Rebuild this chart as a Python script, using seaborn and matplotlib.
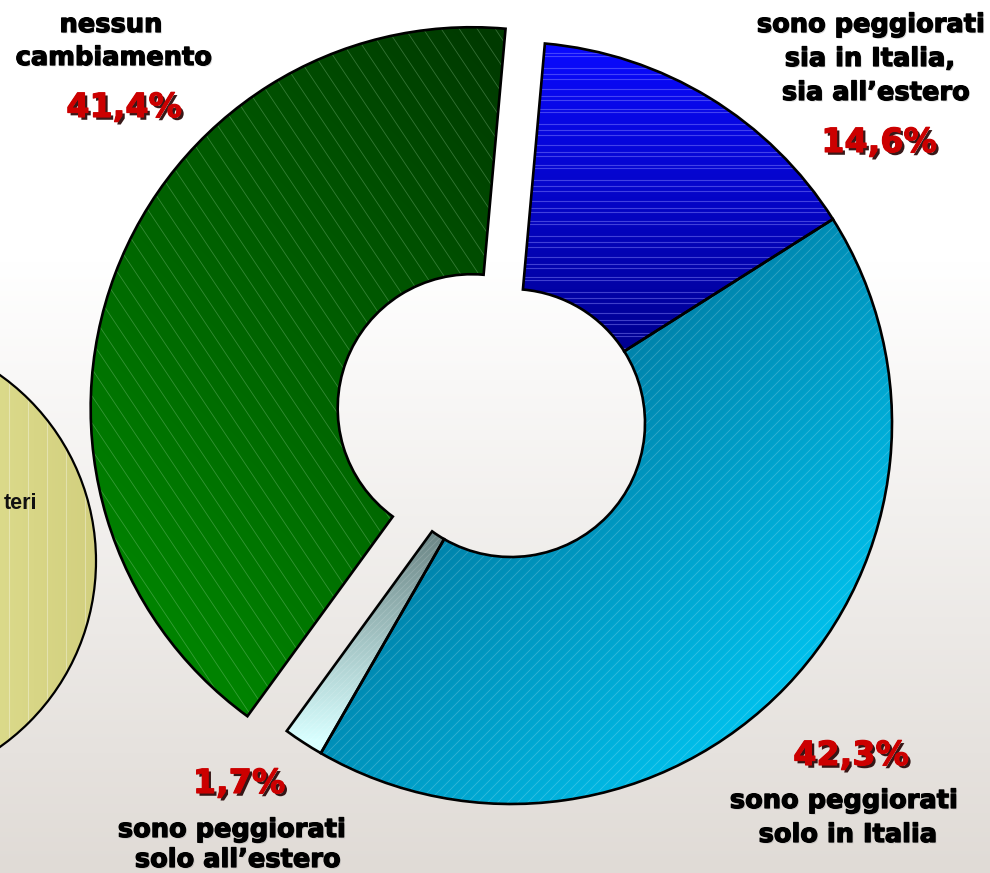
import numpy as np
import matplotlib
matplotlib.use("Agg")
import matplotlib.pyplot as plt
import matplotlib.patches as mpatches
import matplotlib.patheffects as pe
import seaborn as sns

# ---------------- data ----------------
categories = ["sono peggiorati sia in Italia, sia all’estero",
              "sono peggiorati solo in Italia",
              "sono peggiorati solo all’estero",
              "nessun cambiamento"]
values = [14.6, 42.3, 1.7, 41.4]
label_lines = [["sono peggiorati", "sia in Italia,", "sia all’estero"],
               ["sono peggiorati", "solo in Italia"],
               ["sono peggiorati", "solo all’estero"],
               ["nessun", "cambiamento"]]
side_label = "teri"

# ---------------- setup ----------------
W, H = 990, 873
sns.set_theme(style="white")
plt.rcParams['font.family'] = ['DejaVu Sans']

fig = plt.figure(figsize=(W / 100, H / 100), dpi=100)
ax = fig.add_axes([0, 0, 1, 1])


def iy(y):
    return H - y


# pixel grids (image coords)
X, Y = np.meshgrid(np.arange(W) + 0.5, np.arange(H) + 0.5)

# background gradient
bg_cmap = sns.blend_palette(["#FFFFFF", "#E0DBD6"], as_cmap=True)
tb = np.clip((Y - 260) / (H - 260), 0, 1)
ax.imshow(bg_cmap(tb), extent=(0, W, 0, H), origin="upper", zorder=0,
          interpolation="bilinear", aspect="auto")

# ---------------- side yellow circle ----------------
circ = mpatches.Circle((-132, iy(561)), 228, facecolor="#DEDE8C",
                       edgecolor="none", zorder=1)
ax.add_patch(circ)
y_cmap = sns.blend_palette(["#E4E496", "#D2CF7E"], as_cmap=True)
ty = np.clip((X + 100) / 200, 0, 1)
im = ax.imshow(y_cmap(ty), extent=(0, W, 0, H), origin="upper", zorder=2,
               interpolation="bilinear", aspect="auto")
im.set_clip_path(circ)
for xv in np.arange(-10, 100, 19):
    ln, = ax.plot([xv, xv], [0, H], color="white", alpha=0.35, lw=0.8, zorder=3)
    ln.set_clip_path(circ)
ax.add_patch(mpatches.Circle((-132, iy(561)), 228, facecolor="none",
                             edgecolor="black", lw=1.6, zorder=6))
ax.text(37, iy(509), side_label, ha="right", va="baseline", fontsize=15.5,
        fontweight="bold", family=["Liberation Sans"], color="#111111", zorder=10)

# ---------------- doughnut ----------------
center = (511, iy(423))
R_out, R_in = 381, 134
explode = [0, 0, 0, 42]
base_colors = ["#0000C8", "#00A5D2", "#A0C8C8", "#006000"]

wedges, _ = ax.pie(values, startangle=84.9, counterclock=False, radius=R_out,
                   center=center, explode=explode, colors=base_colors,
                   wedgeprops=dict(width=R_out - R_in, edgecolor="none",
                                   linewidth=0, zorder=2))

# gradient fills per wedge
grads = [
    (np.clip((Y - 45) / (350 - 45), 0, 1), ["#0A0AFF", "#000090"]),
    (np.clip(((X + Y) - 980) / (1500 - 980), 0, 1), ["#0084AC", "#00C3EF"]),
    (np.clip((Y - 530) / (740 - 530), 0, 1), ["#6A8484", "#D8FFFF"]),
    (np.clip(((Y - X) + 450) / 900, 0, 1), ["#003A00", "#008200"]),
]
for w, (t, cols) in zip(wedges, grads):
    cm = sns.blend_palette(cols, as_cmap=True)
    img = ax.imshow(cm(t), extent=(0, W, 0, H), origin="upper", zorder=3,
                    interpolation="bilinear", aspect="auto")
    img.set_clip_path(w)

# decorative texture lines
xs = np.array([-200.0, 1200.0])
gaps = [4, 9, 3, 12, 6, 5, 10, 7]
yv, k = 40.0, 0
while yv < 380:
    ln, = ax.plot([400, 900], [iy(yv), iy(yv)], color="#8C8CFF", alpha=0.45,
                  lw=0.8, zorder=4)
    ln.set_clip_path(wedges[0])
    yv += gaps[k % len(gaps)]
    k += 1
for c in np.arange(0, 2200, 10):
    yy = c - xs
    ln, = ax.plot(xs, iy(yy), color="white", alpha=0.2, lw=0.6, zorder=4)
    ln.set_clip_path(wedges[1])
for c in np.arange(0, 2200, 6):
    yy = c - xs
    ln, = ax.plot(xs, iy(yy), color="white", alpha=0.15, lw=0.6, zorder=4)
    ln.set_clip_path(wedges[2])
for c in np.arange(-1500, 1500, 27):
    yy = 1.5 * xs - c
    ln, = ax.plot(xs, iy(yy), color="#B0E0B0", alpha=0.3, lw=0.6, zorder=4)
    ln.set_clip_path(wedges[3])

for w in wedges:
    ax.add_patch(mpatches.PathPatch(w.get_path(), facecolor="none",
                                    edgecolor="black", lw=1.9, zorder=6,
                                    joinstyle="miter"))

ax.set_xlim(0, W)
ax.set_ylim(0, H)
ax.set_aspect("auto")
ax.axis("off")

# ---------------- labels ----------------
blk_fx = [pe.SimplePatchShadow(offset=(1.0, -1.0), shadow_rgbFace="#999999",
                               alpha=0.35),
          pe.withStroke(linewidth=0.9, foreground="black")]
red_fx = [pe.SimplePatchShadow(offset=(2, -2), shadow_rgbFace="#220000",
                               alpha=0.9),
          pe.withStroke(linewidth=0.8, foreground="#CC0000")]


def put(x, y, s, size, color, fx):
    ax.text(x, iy(y), s, ha="center", va="baseline", fontsize=size,
            fontweight="bold", color=color, path_effects=fx, zorder=10)


line_pos = [[(871, 32), (870, 66), (876, 100)],
            [(844, 808), (848, 842)],
            [(232, 837), (238, 867)],
            [(111, 32), (114, 65)]]
pct_pos = [(879, 152), (851, 765), (239, 793), (124, 117)]

for lines, poss, v, pp in zip(label_lines, line_pos, values, pct_pos):
    for s, (x, y) in zip(lines, poss):
        put(x, y, s, 18.5, "black", blk_fx)
    put(pp[0], pp[1], f"{v:.1f}%".replace(".", ","), 24, "#CC0000", red_fx)

fig.savefig("out.png", dpi=100)
